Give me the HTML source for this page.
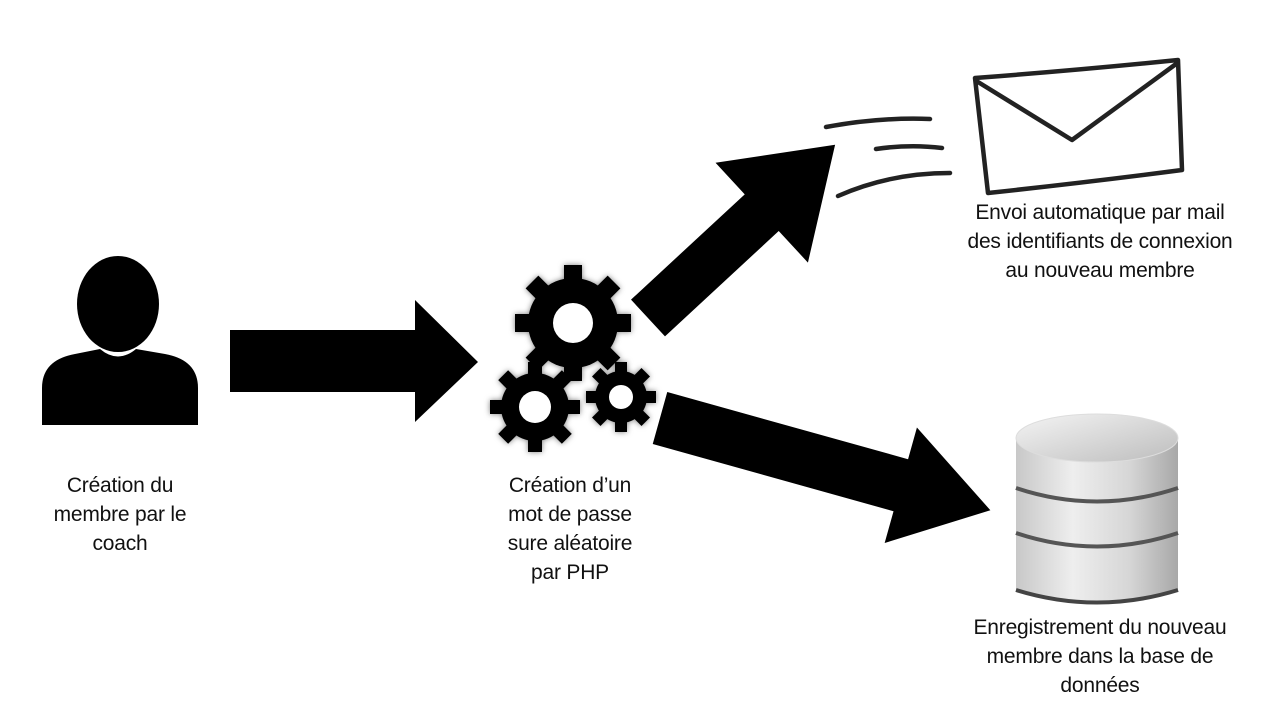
<!DOCTYPE html>
<html><head><meta charset="utf-8"><style>
body{margin:0;background:#fff;width:1280px;height:720px;overflow:hidden;position:relative;font-family:"Liberation Sans",sans-serif}
.t{position:absolute;text-align:center;font-size:21px;line-height:29px;color:#111;letter-spacing:-0.2px}
</style></head><body>
<svg width="1280" height="720" style="position:absolute;left:0;top:0">
<defs>
<linearGradient id="cyl" x1="0" x2="1"><stop offset="0" stop-color="#c8c8c8"/><stop offset="0.35" stop-color="#eeeeee"/><stop offset="0.7" stop-color="#d6d6d6"/><stop offset="1" stop-color="#a8a8a8"/></linearGradient>
<linearGradient id="top" x1="0" y1="0" x2="1" y2="1"><stop offset="0" stop-color="#f4f4f4"/><stop offset="1" stop-color="#bdbdbd"/></linearGradient>
<filter id="sh"><feDropShadow dx="0" dy="0" stdDeviation="3" flood-opacity="0.5"/></filter>
</defs>
<ellipse cx="118" cy="304" rx="41" ry="48" fill="#000"/>
<path d="M42 425 L42 388 Q42 360 75 354 L100 349 Q118 364 136 349 L165 354 Q198 360 198 388 L198 425 Z" fill="#000"/>
<polygon points="230,330 415,330 415,300 478,362 415,422 415,392 230,392" fill="#000"/>
<g transform="translate(648,318) rotate(-42.8)">
<polygon points="0,-25 155,-25 155,-68 255,0 155,68 155,25 0,25" fill="#000"/>
</g>
<g transform="translate(660,418) rotate(15.6)">
<polygon points="0,-27 250,-27 250,-60 343,0 250,60 250,27 0,27" fill="#000"/>
</g>
<g filter="url(#sh)" fill="#000">
<g transform="translate(573,323)">
<circle r="45"/>
<g id="t8"><rect x="-9" y="-58" width="18" height="20"/></g>
<use href="#t8" transform="rotate(45)"/><use href="#t8" transform="rotate(90)"/><use href="#t8" transform="rotate(135)"/>
<use href="#t8" transform="rotate(180)"/><use href="#t8" transform="rotate(225)"/><use href="#t8" transform="rotate(270)"/><use href="#t8" transform="rotate(315)"/>
<circle r="20" fill="#fff"/>
</g>
<g transform="translate(535,407)">
<circle r="34"/>
<g id="s8"><rect x="-7" y="-45" width="14" height="16"/></g>
<use href="#s8" transform="rotate(45)"/><use href="#s8" transform="rotate(90)"/><use href="#s8" transform="rotate(135)"/>
<use href="#s8" transform="rotate(180)"/><use href="#s8" transform="rotate(225)"/><use href="#s8" transform="rotate(270)"/><use href="#s8" transform="rotate(315)"/>
<circle r="16" fill="#fff"/>
</g>
<g transform="translate(621,397)">
<circle r="26"/>
<g id="r8"><rect x="-6" y="-35" width="12" height="13"/></g>
<use href="#r8" transform="rotate(45)"/><use href="#r8" transform="rotate(90)"/><use href="#r8" transform="rotate(135)"/>
<use href="#r8" transform="rotate(180)"/><use href="#r8" transform="rotate(225)"/><use href="#r8" transform="rotate(270)"/><use href="#r8" transform="rotate(315)"/>
<circle r="12" fill="#fff"/>
</g>
</g>
<g fill="none" stroke="#222" stroke-width="4.5" stroke-linecap="round" stroke-linejoin="round">
<path d="M975 78 Q1080 70 1178 60 L1182 170 Q1090 182 988 193 Z"/>
<path d="M978 82 L1072 140 L1176 64"/>
<path d="M826 127 Q880 117 930 119"/>
<path d="M876 149 Q910 144 942 148"/>
<path d="M838 196 Q890 173 950 173"/>
</g>
<path d="M1016 438 L1016 590 Q1097 615 1178 590 L1178 438 Z" fill="url(#cyl)"/>
<path d="M1016 488 Q1097 515 1178 488" stroke="#555" stroke-width="4" fill="none"/>
<path d="M1016 533 Q1097 560 1178 533" stroke="#555" stroke-width="4" fill="none"/>
<path d="M1016 590 Q1097 615 1178 590" stroke="#444" stroke-width="4" fill="none"/>
<ellipse cx="1097" cy="438" rx="81" ry="24" fill="url(#top)" stroke="#ddd"/>
</svg>
<div class="t" style="left:20px;top:471px;width:200px">Création du<br>membre par le<br>coach</div>
<div class="t" style="left:470px;top:471px;width:200px">Création d’un<br>mot de passe<br>sure aléatoire<br>par PHP</div>
<div class="t" style="left:920px;top:198px;width:360px">Envoi automatique par mail<br>des identifiants de connexion<br>au nouveau membre</div>
<div class="t" style="left:920px;top:613px;width:360px">Enregistrement du nouveau<br>membre dans la base de<br>données</div>
</body></html>
